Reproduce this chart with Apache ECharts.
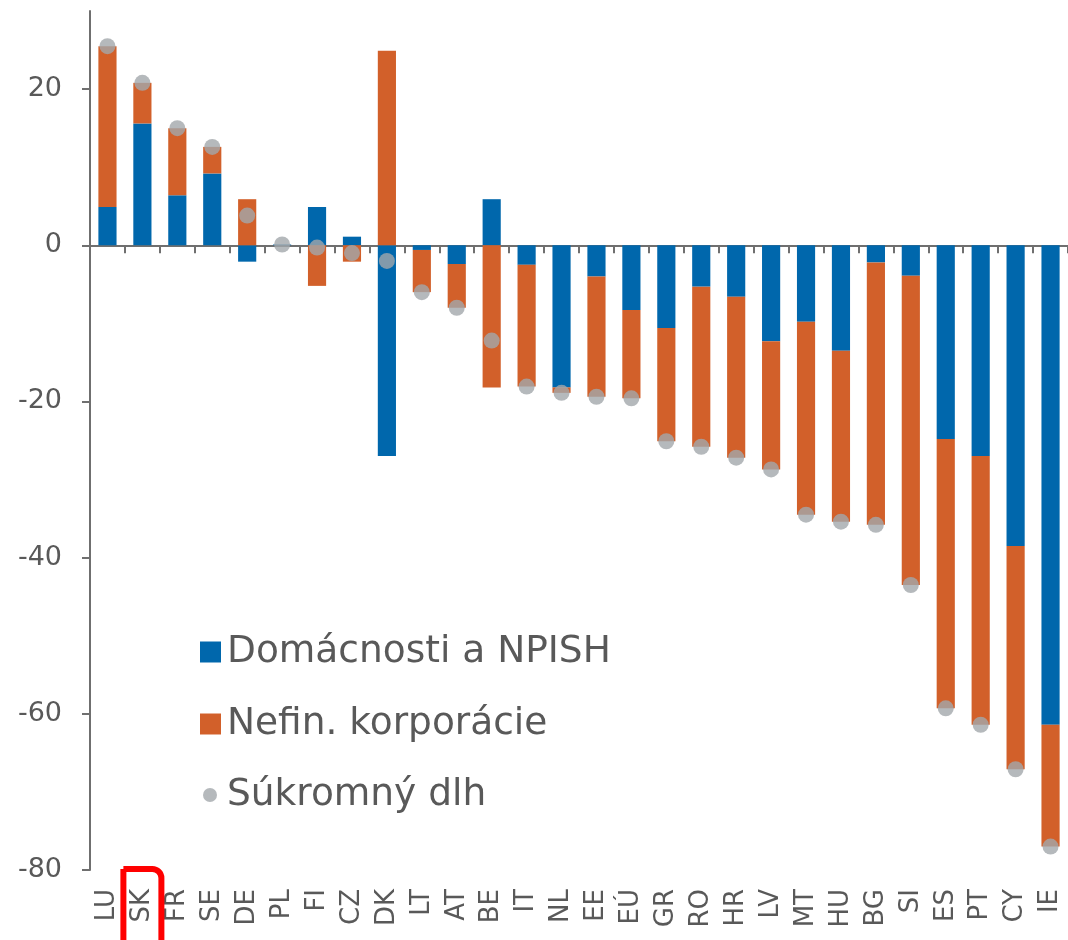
<!DOCTYPE html>
<html>
<head>
<meta charset="utf-8">
<script src="https://cdn.jsdelivr.net/npm/echarts@6/dist/echarts.min.js"></script>
<style>
  html, body { margin: 0; padding: 0; background: #fff; }
  #chart { width: 1068px; height: 940px; }
</style>
</head>
<body>
<div id="chart"></div>
<script>
const categories = ['LU','SK','FR','SE','DE','PL','FI','CZ','DK','LT','AT','BE','IT','NL','EE','EÚ','GR','RO','HR','LV','MT','HU','BG','SI','ES','PT','CY','IE'];
const households = [4.9, 15.6, 6.4, 9.2, -2.1, 0.1, 4.9, 1.1, -27.0, -0.6, -2.4, 5.9, -2.5, -18.2, -4.0, -8.3, -10.6, -5.3, -6.6, -12.3, -9.8, -13.5, -2.2, -3.9, -24.8, -27.0, -38.5, -61.4];
const corporations = [20.6, 5.2, 8.6, 3.4, 5.9, 0.0, -5.2, -2.1, 24.9, -5.4, -5.6, -18.2, -15.6, -0.7, -15.4, -11.3, -14.5, -20.5, -20.6, -16.4, -24.7, -21.9, -33.6, -39.6, -34.5, -34.4, -28.6, -15.6];
const privateDebt = [25.5, 20.8, 15.0, 12.6, 3.8, 0.1, -0.3, -1.0, -2.0, -6.0, -8.0, -12.2, -18.1, -18.9, -19.4, -19.6, -25.1, -25.8, -27.2, -28.7, -34.5, -35.4, -35.8, -43.5, -59.3, -61.4, -67.1, -77.0];
const yTicks = [-80, -60, -40, -20, 0, 20];
const seriesNames = ['Domácnosti a NPISH', 'Nefin. korporácie', 'Súkromný dlh'];
const highlighted = 'SK';

const FONT = 'DejaVu Sans';
const TEXT = '#595959';
const AXIS = '#6f6f6f';

const chart = echarts.init(document.getElementById('chart'), null, { renderer: 'canvas' });
chart.setOption({
  animation: false,
  backgroundColor: '#ffffff',
  grid: { left: 90, right: -5, top: 11, bottom: 70, containLabel: false },
  legend: [
    {
      data: [seriesNames[0], seriesNames[1]],
      orient: 'vertical', left: 195, top: 628,
      itemWidth: 21, itemHeight: 21, itemGap: 34, icon: 'rect',
      selectedMode: false,
      textStyle: { fontFamily: FONT, fontSize: 37.5, lineHeight: 37, color: TEXT, padding: [0, 0, 0, 1] }
    },
    {
      data: [seriesNames[2]],
      orient: 'vertical', left: 198, top: 771,
      itemWidth: 14, itemHeight: 14, icon: 'circle',
      selectedMode: false,
      textStyle: { fontFamily: FONT, fontSize: 37.5, lineHeight: 37, color: TEXT, padding: [0, 0, 0, 5] }
    }
  ],
  xAxis: [
    {
      type: 'category', data: categories, boundaryGap: true,
      axisLine: { onZero: true, lineStyle: { color: AXIS, width: 2 } },
      axisTick: { show: true, length: 8, lineStyle: { color: AXIS, width: 2 } },
      axisLabel: { show: false },
      splitLine: { show: false }
    },
    {
      type: 'category', data: categories, position: 'bottom', boundaryGap: true,
      axisLine: { show: false, onZero: false },
      axisTick: { show: false },
      axisLabel: { rotate: 90, margin: 19, fontFamily: FONT, fontSize: 26, color: TEXT, interval: 0 },
      splitLine: { show: false }
    }
  ],
  yAxis: {
    type: 'value', min: -80, max: 30,
    axisLine: { show: true, onZero: false, lineStyle: { color: AXIS, width: 2 } },
    axisTick: { show: true, length: 8, customValues: yTicks, lineStyle: { color: AXIS, width: 2 } },
    axisLabel: { customValues: yTicks, margin: 28, fontFamily: FONT, fontSize: 27, color: TEXT },
    splitLine: { show: false }
  },
  series: [
    {
      name: seriesNames[0], type: 'bar', stack: 'debt', xAxisIndex: 0,
      data: households, barWidth: '52%',
      itemStyle: { color: '#0067AC' }
    },
    {
      name: seriesNames[1], type: 'bar', stack: 'debt', xAxisIndex: 0,
      data: corporations, barWidth: '52%',
      itemStyle: { color: '#D2602A' }
    },
    {
      name: seriesNames[2], type: 'scatter', xAxisIndex: 0,
      data: privateDebt, symbol: 'circle', symbolSize: 16, z: 5,
      itemStyle: { color: '#A3A8AB' }
    }
  ]
});

const cx = chart.convertToPixel({ xAxisIndex: 0 }, highlighted);
chart.setOption({
  graphic: [{
    type: 'rect', silent: true,
    shape: { x: cx - 19, y: 869, width: 38, height: 100, r: [0, 9, 0, 0] },
    style: { fill: 'none', stroke: '#FF0000', lineWidth: 6 },
    z: 100
  }]
});
</script>
</body>
</html>
